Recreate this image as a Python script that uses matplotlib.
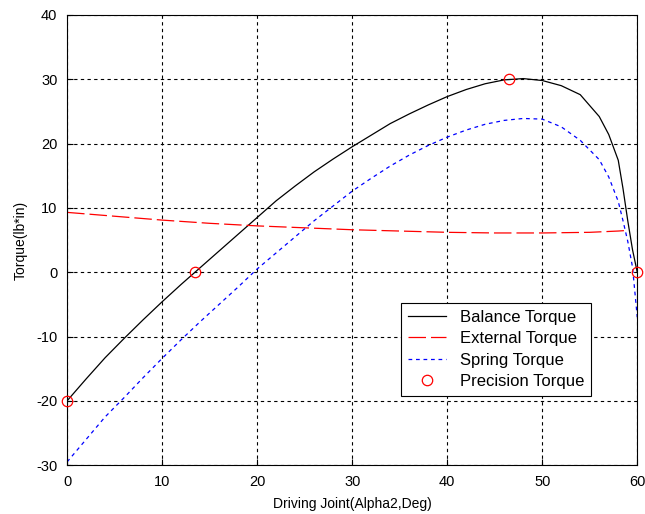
import numpy as np
import matplotlib
matplotlib.use("Agg")
import matplotlib.pyplot as plt

plt.rcParams['font.family'] = ['Liberation Sans', 'DejaVu Sans']
plt.rcParams['axes.unicode_minus'] = False

# balance torque (black solid)
bal_x = [0, 2, 4, 6, 8, 10, 12, 14, 16, 18, 20, 22, 24, 26, 28, 30, 32, 34, 36,
         38, 40, 42, 44, 46, 48, 50, 52, 54, 56, 57, 58, 58.5, 59, 59.5, 60]
bal_y = [-20, -16.6, -13.3, -10.3, -7.4, -4.6, -1.9, 0.7, 3.3, 5.9, 8.5, 11.1,
         13.4, 15.6, 17.6, 19.5, 21.3, 23.1, 24.6, 26.0, 27.3, 28.4, 29.3, 29.9,
         30.1, 29.8, 29.0, 27.6, 24.2, 21.4, 17.4, 13.0, 8.0, 3.5, 0]

# spring torque (blue dotted)
spr_x = bal_x
spr_y = [-29.5, -26.0, -22.5, -19.5, -16.4, -13.4, -10.5, -7.7, -5.0, -2.3, 0.5,
         3.0, 5.5, 8.0, 10.3, 12.6, 14.6, 16.5, 18.2, 19.7, 21.0, 22.1, 23.0,
         23.6, 23.9, 23.8, 22.6, 20.5, 17.5, 14.8, 11.0, 8.0, 4.8, 0.8, -7.0]

# external torque (red dashed)
ext_x = [0, 5, 10, 15, 20, 25, 30, 35, 40, 45, 50, 55, 58, 59]
ext_y = [9.3, 8.7, 8.1, 7.6, 7.2, 6.9, 6.6, 6.4, 6.2, 6.1, 6.1, 6.2, 6.4, 6.5]

# precision points
prec_x = [0, 13.5, 46.5, 60]
prec_y = [-20, 0, 30, 0]

fig = plt.figure(figsize=(6.45, 5.14), dpi=100)
ax = fig.add_axes([0.104, 0.095, 0.884, 0.876])

ax.plot(bal_x, bal_y, color='black', lw=0.9, label='Balance Torque')
ax.plot(ext_x, ext_y, color='red', lw=0.9, dashes=(14, 4), label='External Torque')
ax.plot(spr_x, spr_y, color='blue', lw=0.9, dashes=(3, 3), label='Spring Torque')
ax.plot(prec_x, prec_y, 'o', mfc='none', mec='red', ms=7.5, mew=0.9,
        label='Precision Torque', clip_on=False, zorder=5)

ax.set_xlim(0, 60)
ax.set_ylim(-30, 40)
ax.set_xticks(range(0, 61, 10))
ax.set_yticks(range(-30, 41, 10))
ax.grid(True, color='black', ls=(0, (3, 3)), lw=0.8)
ax.tick_params(direction='in', length=4, labelsize=10.5, width=0.8, pad=7)
for s in ax.spines.values():
    s.set_linewidth(0.8)

ax.set_xlabel('Driving Joint(Alpha2,Deg)', fontsize=10, labelpad=6)
ax.set_ylabel('Torque(lb*in)', fontsize=10, labelpad=6)

leg = ax.legend(loc='lower right', bbox_to_anchor=(0.933, 0.136), fontsize=12,
                fancybox=False, framealpha=1, edgecolor='black',
                handlelength=2.3, handletextpad=0.8, borderpad=0.4,
                labelspacing=0.38)
leg.get_frame().set_linewidth(0.8)

fig.savefig('out.png', dpi=100)
